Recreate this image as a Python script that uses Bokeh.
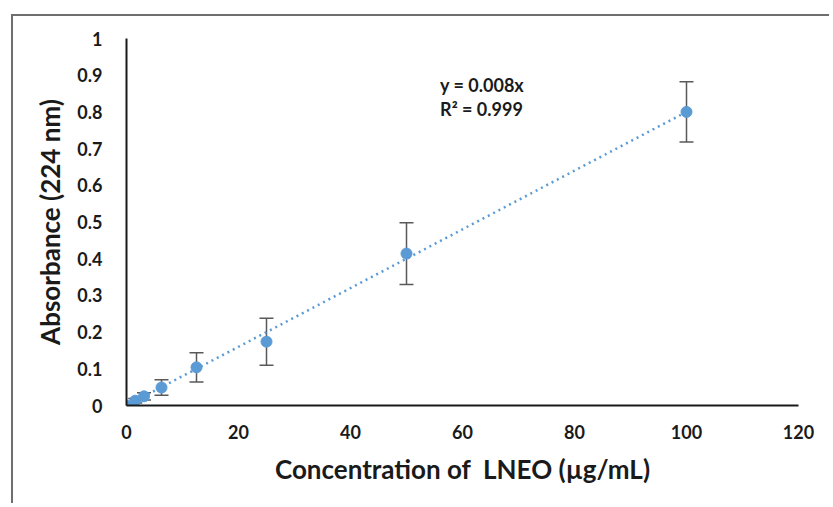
from bokeh.plotting import figure
from bokeh.models import Range1d, Whisker, ColumnDataSource, Label, FixedTicker
from bokeh.embed import file_html
from bokeh.resources import INLINE

# Data
conc = [0, 1.5625, 3.125, 6.25, 12.5, 25, 50, 100]
absorb = [0.0, 0.013, 0.025, 0.049, 0.104, 0.174, 0.414, 0.80]
y_err = [0.0, 0.006, 0.010, 0.021, 0.040, 0.064, 0.084, 0.082]
x_err = [0.0, 0.6, 0.6, 0.6, 0.6, 0.6, 0.6, 0.6]
slope_val = 0.008
eq_text = "y = 0.008x"
r2_text = "R² = 0.999"
x_ticks = [0, 20, 40, 60, 80, 100, 120]
y_ticks = [0, 0.1, 0.2, 0.3, 0.4, 0.5, 0.6, 0.7, 0.8, 0.9, 1.0]

FONT = "Lato"
BLUE = "#5B9BD5"
GRAY = "#595959"

src = ColumnDataSource(dict(
    x=conc, y=absorb,
    ylo=[a - e for a, e in zip(absorb, y_err)],
    yhi=[a + e for a, e in zip(absorb, y_err)],
    xlo=[c - e for c, e in zip(conc, x_err)],
    xhi=[c + e for c, e in zip(conc, x_err)],
))

p = figure(width=818, height=489, output_backend="svg", toolbar_location=None,
           x_range=Range1d(0, 120), y_range=Range1d(0, 1.0),
           min_border_left=113, min_border_right=33, min_border_top=22, min_border_bottom=100)
p.styles = {"margin-left": "11px", "margin-top": "14px",
            "border-left": "2px solid #6e6e6e", "border-top": "2px solid #6e6e6e"}
p.grid.visible = False
p.outline_line_color = None

for ax in (p.xaxis[0], p.yaxis[0]):
    ax.axis_line_color = "#1a1a1a"
    ax.axis_line_width = 2
    ax.major_tick_line_color = None
    ax.minor_tick_line_color = None
    ax.major_label_text_font = FONT
    ax.major_label_text_font_style = "bold"
    ax.major_label_text_font_size = "18px"
    ax.major_label_text_color = "#1a1a1a"
    ax.axis_label_text_font = FONT
    ax.axis_label_text_font_style = "bold"
    ax.axis_label_text_font_size = "26px"
    ax.axis_label_text_color = "#1a1a1a"

p.xaxis[0].ticker = FixedTicker(ticks=x_ticks)
p.yaxis[0].ticker = FixedTicker(ticks=y_ticks)
p.yaxis[0].major_label_overrides = {0: "0", 1.0: "1"}
p.xaxis[0].major_label_standoff = 13
p.yaxis[0].major_label_standoff = 18
p.xaxis[0].axis_label = "Concentration of\u00a0 LNEO (µg/mL)"
p.yaxis[0].axis_label = "Absorbance (224 nm)"
p.xaxis[0].axis_label_standoff = 11
p.yaxis[0].axis_label_standoff = 8

# trend line
p.line(x=[conc[0], conc[-1]], y=[slope_val * conc[0], slope_val * conc[-1]],
       line_color=BLUE, line_width=2.5, line_dash="2 4")

# error bars
yw = Whisker(source=src, base="x", lower="ylo", upper="yhi", line_color=GRAY, line_width=1.5)
for h in (yw.upper_head, yw.lower_head):
    h.size = 14
    h.line_color = GRAY
    h.line_width = 1.5
p.add_layout(yw)
xw = Whisker(source=src, base="y", lower="xlo", upper="xhi", dimension="width",
             line_color=GRAY, line_width=1.5)
for h in (xw.upper_head, xw.lower_head):
    h.size = 8
    h.line_color = GRAY
p.add_layout(xw)

p.scatter(x="x", y="y", source=src, size=11, color=BLUE, marker="circle")

p.add_layout(Label(x=56, y=0.872, text=eq_text, text_font=FONT, text_font_style="bold",
                   text_font_size="18px", text_color="#1a1a1a", text_baseline="middle"))
p.add_layout(Label(x=56, y=0.809, text=r2_text, text_font=FONT, text_font_style="bold",
                   text_font_size="18px", text_color="#1a1a1a", text_baseline="middle"))

open("out.html", "w").write(file_html(p, INLINE))
